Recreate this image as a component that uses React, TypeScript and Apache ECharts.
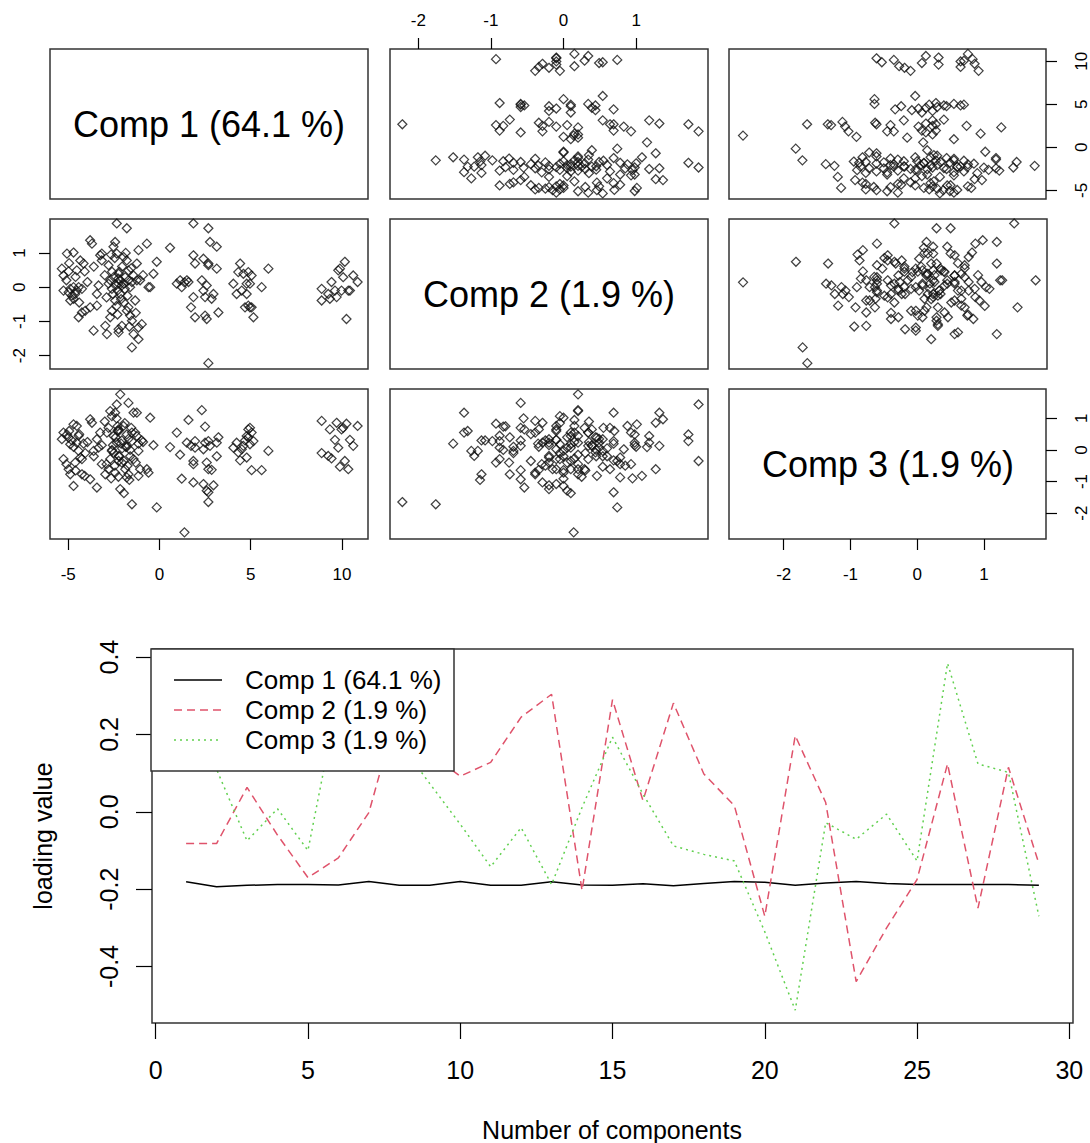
import React, { useEffect, useRef } from "react";
import * as echarts from "echarts";

const FONT = '"Liberation Sans", Arial, Helvetica, sans-serif';

// ---- score data (pairs plot), one entry per sample, same order in all three arrays ----
const scoreComp1 = [
  // cluster near 10
  8.89, 8.89, 9.25, 9.34, 9.43, 9.62, 9.71, 9.8, 9.89, 9.98, 10.07, 10.16, 10.25, 10.35, 10.44, 10.62, 10.86,
  // cluster near 5
  4.05, 4.23, 4.32, 4.42, 4.51, 4.6, 4.69, 4.78, 4.78, 4.87, 4.87, 4.96, 4.96, 5.05, 5.05, 5.15, 5.6, 5.97,
  // cluster near 2.5
  0.58, 0.95, 1.13, 1.22, 1.37, 1.5, 1.59, 1.73, 1.86, 1.86, 1.95, 1.86, 1.95, 2.32, 2.41, 2.41, 2.5, 2.5, 2.59, 2.68,
  2.68, 2.68, 2.59, 2.68, 2.77, 2.86, 2.96, 3.14, 3.14, 3.23, -0.15,
  // cluster near -4.5
  -5.35, -5.26, -5.26, -5.07, -4.98, -4.98, -4.89, -4.89, -4.8, -4.71, -4.71, -4.71, -4.62, -4.53, -4.53, -4.43, -4.43,
  -4.34, -4.25, -4.25, -4.16, -4.1, -4.07, -3.8, -3.8, -3.7, -3.61, -3.43, -3.34, -3.43, -3.25, -3.16, -3.16, -2.97, -2.88,
  // cluster near -2
  -2.79, -2.79, -2.7, -2.7, -2.61, -2.61, -2.52, -2.43, -2.43, -2.34, -2.34, -2.24, -2.24, -2.24, -2.24, -2.15, -2.15,
  -2.06, -2.06, -1.97, -1.88, -1.79, -1.79, -1.79, -1.7, -1.7, -1.7, -1.61, -1.61, -1.51, -1.51, -1.51, -1.42, -1.42,
  -1.33, -1.24, -1.24, -1.15, -1.15, -1.15, -1.06, -0.97, -0.69, -0.6, -0.51, -0.33, -2.5, -2.4, -2.3, -2.2, -2.1,
  -1.95, -1.9, -2.6, -2.35, -1.95, -2.45, -1.85,
  // more left-side samples
  -5.1, -4.95, -4.6, -4.4, -3.95, -3.6, -3.0, -2.9, -2.55, -2.25, -2.05, -1.75, -1.55, -1.3, -0.9, -2.65, -2.3, -1.65,
];
const scoreComp2 = [
  -0.39, -0.05, -0.2, -0.34, 0.15, -0.1, -0.29, 0.49, 0.54, -0.1, 0.29, 0.74, -0.93, -0.1, -0.1, 0.34, 0.15,
  0.1, -0.2, 0.44, 0.69, -0.1, 0.39, -0.59, 0.1, -0.2, -0.54, 0.44, -0.59, 0.1, 0.34, -0.59, -0.88, 0.0, 0.54,
  1.15, 0.1, 0.2, 0.0, 0.14, 0.2, 0.15, -0.59, 1.86, 0.93, 0.69, -0.29, -0.88, 0.2, -0.1, 0.83, -0.29, -0.83, -0.93, 1.72,
  0.69, 0.64, 0.05, -2.22, 1.32, -0.34, -0.2, 1.18, 0.54, -0.74, 0.74,
  0.54, 0.34, -0.1, 0.98, 0.46, -0.15, -0.05, -0.39, -0.25, 1.01, 0.0, -0.34, -0.2, 0.49, -0.1, 0.0, -0.88,
  0.78, -0.05, -0.74, 0.69, 0.46, -0.69, -0.59, 1.37, 1.27, -1.27, -0.54, 0.05, -0.2, 0.93, 0.78, 0.98, -1.13, -1.37,
  0.64, 0.1, 0.2, -0.88, -0.05, -0.69, 1.18, 1.32, -0.39, 1.86, 0.98, 0.39, 0.1, -1.23, -1.32, 0.2, -0.2,
  0.05, -1.13, 0.88, 0.29, 1.72, 0.78, -0.69, -0.59, 0.2, 0.49, 0.0, -0.83, -0.98, -1.76, 0.15, -1.37, 0.34,
  -0.39, 0.69, 0.2, 1.08, -1.18, -1.52, 0.2, -1.08, 1.27, 0.0, 0.0, 0.39, 0.3, 0.05, -0.1, 0.45, -0.35,
  0.1, -0.05, 0.45, -0.55, -0.45, 0.85, 1.0,
  0.2, 0.7, 0.3, -0.45, 0.15, 0.6, 0.35, -0.3, -0.2, 0.25, 0.6, -0.25, 0.55, -0.75, 0.35, 0.95, -0.8, -1.15,
];
const scoreComp3 = [
  0.92, -0.1, -0.19, 0.65, -0.27, 0.32, 0.86, 0.07, -0.53, 0.65, 0.7, -0.35, 0.83, -0.61, 0.32, 0.13, 0.76,
  0.07, 0.23, -0.08, -0.33, 0.02, 0.13, 0.3, 0.44, -0.24, 0.65, 0.4, 0.7, 0.18, 0.55, -0.64, 0.28, -0.64, -0.03,
  0.09, 0.55, -0.15, -0.91, -2.61, 0.23, 0.95, 0.13, -0.35, -0.45, 0.28, -1.03, 0.07, 1.26, -1.08, 0.02, 0.23, 0.74, -0.4, 0.28,
  -1.34, -0.61, -1.29, -1.65, 0.13, -0.63, -1.12, 0.23, -0.2, 0.4, -1.82,
  0.34, 0.55, -0.29, 0.49, 0.39, -0.61, 0.18, -0.77, 0.3, 0.81, -1.14, 0.1, -0.4, 0.23, 0.76, -0.03, 0.45,
  -0.24, -0.29, -0.77, 0.2, -0.82, -0.1, -0.93, 0.97, 0.86, -0.03, -1.19, 0.07, 0.34, 0.55, -0.45, 0.15, -0.77, 0.55,
  0.7, -0.61, 1.23, -0.29, 1.07, -0.03, 0.44, 1.18, -0.72, 1.44, 0.23, 0.65, -0.35, -0.19, 0.6, 1.76, -1.24,
  -0.4, 0.3, 0.76, -0.61, 0.49, -0.87, 0.1, 1.49, -0.77, 0.35, -0.2, 0.0, 0.28, -1.72, 0.55, 1.18, -0.29,
  0.55, 1.18, 0.44, -0.82, -0.03, 0.2, -0.61, 0.3, -0.61, -0.72, 1.02, 0.15, -0.1, 0.4, 0.6, -0.2, 0.2,
  -1.37, 0.85, 0.0, 1.0, -0.35, -0.5, 0.1,
  -0.45, 0.6, -0.65, 0.5, 0.25, -0.2, 0.9, -0.45, 0.15, -0.85, 0.05, -0.5, 0.7, -0.4, 0.25, -0.9, 0.75, -0.95,
];

const compLabels = ["Comp 1 (64.1 %)", "Comp 2 (1.9 %)", "Comp 3 (1.9 %)"];
const scoreAxisMin = [-6.0, -2.39, -2.82];
const scoreAxisMax = [11.43, 1.99, 1.93];
const scoreTicksComp1 = [-5, 0, 5, 10];
const scoreTicksComp2 = [-2, -1, 0, 1];
const scoreTicksComp3 = [-2, -1, 0, 1];

// ---- loadings (line chart) ----
const componentNumber = [1, 2, 3, 4, 5, 6, 7, 8, 9, 10, 11, 12, 13, 14, 15, 16, 17, 18, 19, 20, 21, 22, 23, 24, 25, 26, 27, 28, 29];
const loadingComp1 = [
  -0.181, -0.194, -0.19, -0.188, -0.188, -0.189, -0.18, -0.19, -0.19, -0.18, -0.19, -0.19, -0.181, -0.189, -0.19,
  -0.186, -0.191, -0.185, -0.18, -0.182, -0.19, -0.184, -0.18, -0.185, -0.188, -0.188, -0.188, -0.188, -0.19,
];
const loadingComp2 = [
  -0.082, -0.082, 0.063, -0.06, -0.17, -0.119, -0.002, 0.28, 0.15, 0.092, 0.128, 0.245, 0.304, -0.203, 0.29,
  0.029, 0.281, 0.098, 0.016, -0.27, 0.197, 0.024, -0.439, -0.3, -0.175, 0.124, -0.249, 0.115, -0.134,
];
const loadingComp3 = [
  0.15, 0.11, -0.075, 0.008, -0.1, 0.3, 0.25, 0.18, 0.073, -0.032, -0.142, -0.041, -0.188, 0.011, 0.193,
  0.046, -0.088, -0.11, -0.127, -0.31, -0.513, -0.028, -0.071, -0.006, -0.127, 0.384, 0.124, 0.102, -0.27,
];
const loadingXTicks = [0, 5, 10, 15, 20, 25, 30];
const loadingYTicks = [-0.4, -0.2, 0, 0.2, 0.4];
const loadingColors = ["#000000", "#DF536B", "#61D04F"];
const xAxisTitle = "Number of components";
const yAxisTitle = "loading value";

function makeAxis(
  gridIndex: number,
  min: number,
  max: number,
  ticks: number[],
  position: string,
  show: boolean,
  margin: number,
  rotate: number,
  tickLen: number,
  fontSize: number,
  fmt: (v: number) => string
) {
  return {
    type: "value",
    gridIndex,
    min,
    max,
    position,
    axisLine: { show: false, onZero: false },
    splitLine: { show: false },
    axisTick: {
      show,
      inside: false,
      length: tickLen,
      customValues: ticks,
      lineStyle: { color: "#000", width: 1.2 },
    },
    axisLabel: {
      show,
      customValues: ticks,
      margin,
      rotate,
      fontSize,
      color: "#000",
      fontFamily: FONT,
      formatter: fmt,
      hideOverlap: false,
    },
  };
}

export default function App() {
  const ref = useRef<HTMLDivElement>(null);

  useEffect(() => {
    if (!ref.current) return;
    const chart = echarts.init(ref.current, null, { renderer: "svg" });

    const scores = [scoreComp1, scoreComp2, scoreComp3];
    const ticks = [scoreTicksComp1, scoreTicksComp2, scoreTicksComp3];
    const colLeft = [50, 390, 729];
    const rowTop = [49, 219, 389];
    const PW = 318;
    const PH = 150;

    const grids: any[] = [];
    const xAxes: any[] = [];
    const yAxes: any[] = [];
    const series: any[] = [];

    for (let i = 0; i < 3; i++) {
      for (let j = 0; j < 3; j++) {
        const g = i * 3 + j;
        grids.push({
          left: colLeft[j],
          top: rowTop[i],
          width: PW,
          height: PH,
          show: true,
          borderColor: "#333",
          borderWidth: 1.5,
          backgroundColor: "rgba(0,0,0,0)",
        });
        const xPos = i === 0 && j === 1 ? "top" : i === 2 && j !== 1 ? "bottom" : null;
        const yPos = j === 0 && i === 1 ? "left" : j === 2 && i !== 1 ? "right" : null;
        xAxes.push(
          makeAxis(g, scoreAxisMin[j], scoreAxisMax[j], ticks[j], xPos || "bottom", !!xPos,
            xPos === "top" ? 20 : 27, 0, 11, 17, (v: number) => String(v))
        );
        yAxes.push(
          makeAxis(g, scoreAxisMin[i], scoreAxisMax[i], ticks[i], yPos || "left", !!yPos,
            yPos === "left" ? 22 : 27, 90, 11, 17, (v: number) => String(v))
        );
        if (i !== j) {
          series.push({
            type: "scatter",
            xAxisIndex: g,
            yAxisIndex: g,
            data: scores[j].map((v, k) => [v, scores[i][k]]),
            symbol: "diamond",
            symbolSize: 9,
            itemStyle: { color: "rgba(0,0,0,0)", borderColor: "#111", borderWidth: 1.25 },
            silent: true,
            z: 3,
          });
        }
      }
    }

    // bottom loading chart
    grids.push({
      left: 152,
      top: 649,
      width: 921,
      height: 374,
      show: true,
      borderColor: "#333",
      borderWidth: 1.5,
      backgroundColor: "rgba(0,0,0,0)",
    });
    xAxes.push(makeAxis(9, -0.12, 30.12, loadingXTicks, "bottom", true, 34, 0, 16, 25, (v: number) => String(v)));
    yAxes.push(makeAxis(9, -0.546, 0.421, loadingYTicks, "left", true, 31, 90, 16, 25, (v: number) => v.toFixed(1)));

    const loadings = [loadingComp1, loadingComp2, loadingComp3];
    const dashes: any[] = ["solid", [8, 5], [2, 4]];
    loadings.forEach((arr, s) => {
      series.push({
        type: "line",
        name: compLabels[s],
        xAxisIndex: 9,
        yAxisIndex: 9,
        data: componentNumber.map((x, k) => [x, arr[k]]),
        symbol: "none",
        lineStyle: { color: loadingColors[s], width: 1.5, type: dashes[s] },
        silent: true,
        z: 2,
      });
    });

    const elements: any[] = [];
    for (let d = 0; d < 3; d++) {
      elements.push({
        type: "text",
        x: colLeft[d] + PW / 2,
        y: rowTop[d] + PH / 2,
        style: {
          text: compLabels[d],
          fontSize: 36,
          fontFamily: FONT,
          fill: "#000",
          align: "center",
          verticalAlign: "middle",
          textAlign: "center",
          textVerticalAlign: "middle",
        },
      });
    }
    // legend box
    elements.push({
      type: "rect",
      z: 100,
      shape: { x: 151, y: 649, width: 303, height: 122 },
      style: { fill: "#fff", stroke: "#333", lineWidth: 1.5 },
    });
    for (let s = 0; s < 3; s++) {
      const yy = 680 + 30 * s;
      elements.push({
        type: "line",
        z: 101,
        shape: { x1: 174, y1: yy, x2: 222, y2: yy },
        style: {
          stroke: loadingColors[s],
          lineWidth: 1.5,
          lineDash: s === 0 ? null : dashes[s],
        },
      });
      elements.push({
        type: "text",
        z: 101,
        x: 245,
        y: yy,
        style: {
          text: compLabels[s],
          fontSize: 26,
          fontFamily: FONT,
          fill: "#000",
          align: "left",
          verticalAlign: "middle",
          textAlign: "left",
          textVerticalAlign: "middle",
        },
      });
    }
    elements.push({
      type: "text",
      x: 612,
      y: 1130,
      style: {
        text: xAxisTitle,
        fontSize: 25,
        fontFamily: FONT,
        fill: "#000",
        align: "center",
        verticalAlign: "middle",
        textAlign: "center",
        textVerticalAlign: "middle",
      },
    });
    elements.push({
      type: "text",
      x: 43,
      y: 836,
      rotation: Math.PI / 2,
      style: {
        text: yAxisTitle,
        fontSize: 25,
        fontFamily: FONT,
        fill: "#000",
        align: "center",
        verticalAlign: "middle",
        textAlign: "center",
        textVerticalAlign: "middle",
      },
    });

    chart.setOption({
      animation: false,
      backgroundColor: "#ffffff",
      textStyle: { fontFamily: FONT },
      grid: grids,
      xAxis: xAxes,
      yAxis: yAxes,
      series,
      graphic: { elements },
    });

    return () => chart.dispose();
  }, []);

  return (
    <div
      ref={ref}
      style={{ position: "absolute", left: 0, top: 0, width: 1090, height: 1143, background: "#fff" }}
    />
  );
}
